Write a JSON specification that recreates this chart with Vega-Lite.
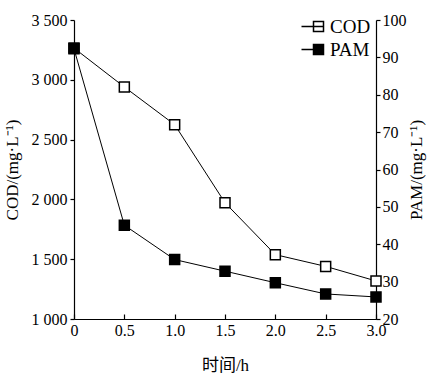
{
  "$schema": "https://vega.github.io/schema/vega-lite/v6.json",
  "width": 302,
  "height": 299,
  "autosize": {"type": "none"},
  "padding": {"left": 74, "top": 20, "right": 58, "bottom": 61},
  "background": "white",
  "config": {
    "view": {"stroke": null},
    "font": "Liberation Serif",
    "axis": {
      "domainColor": "black",
      "tickColor": "black",
      "labelColor": "black",
      "titleColor": "black",
      "labelFont": "Liberation Serif",
      "titleFont": "Liberation Serif, Noto Sans CJK SC",
      "labelFontSize": 16,
      "titleFontSize": 17,
      "titleFontWeight": "normal",
      "grid": false,
      "domainWidth": 1.2,
      "tickWidth": 1.2,
      "labelOverlap": false
    }
  },
  "data": {
    "values": [
      {"t": 0, "COD": 3265, "PAM": 92.3},
      {"t": 0.5, "COD": 2940, "PAM": 45.1},
      {"t": 1.0, "COD": 2625, "PAM": 35.9},
      {"t": 1.5, "COD": 1972, "PAM": 32.8},
      {"t": 2.0, "COD": 1538, "PAM": 29.7},
      {"t": 2.5, "COD": 1440, "PAM": 26.7},
      {"t": 3.0, "COD": 1318, "PAM": 25.9}
    ]
  },
  "encoding": {
    "x": {
      "field": "t",
      "type": "quantitative",
      "scale": {"domain": [0, 3], "nice": false},
      "axis": {
        "title": "时间/h",
        "values": [0, 0.5, 1, 1.5, 2, 2.5, 3],
        "labelExpr": "datum.value == 0 ? '0' : format(datum.value, '.1f')",
        "tickSize": -5,
        "labelPadding": 8,
        "titlePadding": 19,
        "labelFlush": false
      }
    }
  },
  "layer": [
    {
      "encoding": {
        "y": {
          "field": "COD",
          "type": "quantitative",
          "scale": {"domain": [1000, 3500], "nice": false, "zero": false},
          "axis": {
            "title": "COD/(mg·L⁻¹)",
            "values": [1000, 1500, 2000, 2500, 3000, 3500],
            "labelExpr": "replace(format(datum.value, ','), ',', ' ')",
            "tickSize": 4,
            "labelPadding": 3,
            "titlePadding": 10,
            "labelFlush": false
          }
        }
      },
      "layer": [
        {
          "mark": {"type": "line", "color": "black", "strokeWidth": 1}
        },
        {
          "mark": {"type": "point", "shape": "square", "size": 100, "filled": true, "stroke": "black", "strokeWidth": 1.5, "opacity": 1},
          "encoding": {
            "fill": {
              "datum": "COD",
              "type": "nominal",
              "scale": {"domain": ["COD", "PAM"], "range": ["white", "black"]},
              "legend": {
                "title": null,
                "orient": "none",
                "legendX": 235,
                "legendY": -3,
                "padding": 0,
                "symbolType": "M-3.4,0H1M-1,-1H1V1H-1Z",
                "symbolSize": 100,
                "symbolStrokeColor": "black",
                "symbolStrokeWidth": 1.5,
                "labelFont": "Liberation Serif",
                "labelFontSize": 19,
                "labelColor": "black",
                "labelOffset": 2,
                "rowPadding": 3
              }
            }
          }
        }
      ]
    },
    {
      "encoding": {
        "y": {
          "field": "PAM",
          "type": "quantitative",
          "scale": {"domain": [20, 100], "nice": false, "zero": false},
          "axis": {
            "orient": "right",
            "title": "PAM/(mg·L⁻¹)",
            "titleAngle": 270,
            "titleBaseline": "top",
            "values": [20, 30, 40, 50, 60, 70, 80, 90, 100],
            "tickSize": 4,
            "labelPadding": 2,
            "titlePadding": 2,
            "labelFlush": false
          }
        }
      },
      "layer": [
        {
          "mark": {"type": "line", "color": "black", "strokeWidth": 1}
        },
        {
          "mark": {"type": "point", "shape": "square", "size": 100, "filled": true, "stroke": "black", "strokeWidth": 1.5, "opacity": 1},
          "encoding": {
            "fill": {"datum": "PAM", "type": "nominal"}
          }
        }
      ]
    }
  ],
  "resolve": {"scale": {"y": "independent"}}
}
